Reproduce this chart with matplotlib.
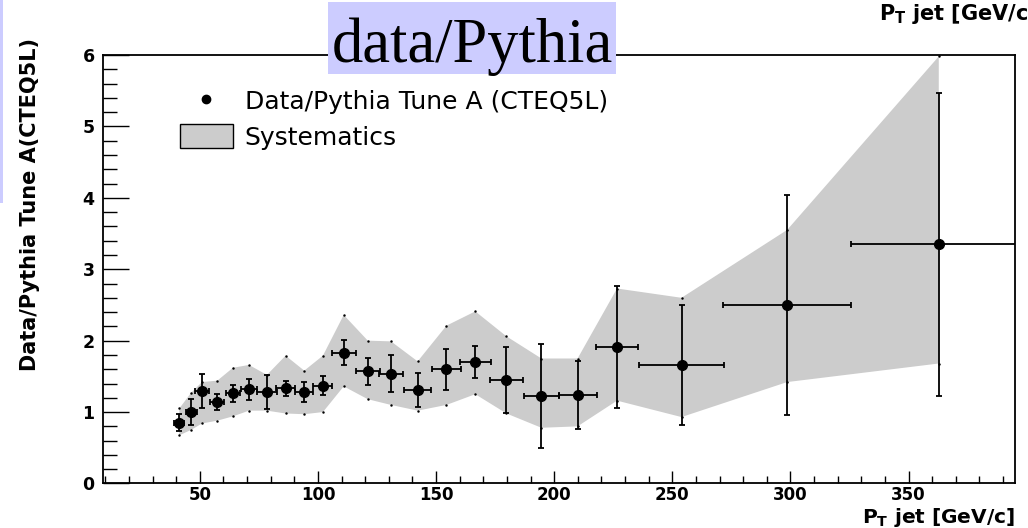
import matplotlib.pyplot as plt
from matplotlib.lines import Line2D
from matplotlib.patches import Patch, Rectangle
from matplotlib.ticker import MultipleLocator

plt.rcParams["font.family"] = ["DejaVu Sans"]

# jet pT bin centres and half-widths [GeV/c]
pt = [41.3, 46.3, 50.9, 57.4, 64.0, 70.8, 78.4, 86.3, 94.2, 102.1, 110.9,
      121.1, 130.9, 142.2, 154.4, 166.6, 179.8, 194.6, 209.9, 226.6, 253.9,
      298.6, 362.8]
pt_err = [2.1, 2.3, 3.0, 2.9, 3.1, 3.45, 4.2, 4.0, 3.75, 4.0, 5.0,
          5.15, 5.1, 5.85, 5.95, 6.5, 7.15, 7.4, 8.05, 9.0, 17.95,
          27.0, 37.0]

# data / Pythia Tune A ratio and statistical errors
ratio = [0.85, 1.00, 1.30, 1.14, 1.26, 1.32, 1.28, 1.33, 1.28, 1.37, 1.83,
         1.57, 1.54, 1.31, 1.60, 1.70, 1.45, 1.225, 1.24, 1.91, 1.66,
         2.50, 3.35]
ratio_err = [0.12, 0.18, 0.24, 0.11, 0.125, 0.145, 0.24, 0.10, 0.14, 0.135,
             0.175, 0.19, 0.26, 0.235, 0.285, 0.225, 0.465, 0.735, 0.48,
             0.855, 0.835, 1.545, 2.12]

# systematic band edges
syst_hi = [1.05, 1.27, 1.42, 1.44, 1.62, 1.66, 1.52, 1.79, 1.58, 1.79, 2.36,
           2.00, 1.99, 1.71, 2.21, 2.41, 2.06, 1.75, 1.75, 2.73, 2.60,
           3.55, 5.98]
syst_lo = [0.675, 0.75, 0.84, 0.88, 0.94, 1.02, 1.02, 0.98, 0.97, 1.00, 1.36,
           1.18, 1.10, 1.02, 1.10, 1.25, 0.98, 0.78, 0.80, 1.16, 0.93,
           1.42, 1.68]

fig = plt.figure(figsize=(10.28, 5.28), dpi=100)
ax = fig.add_axes([0.1002, 0.0843, 0.887, 0.8116])

band_x = pt + pt[::-1]
band_y = syst_hi + syst_lo[::-1]
ax.fill(band_x, band_y, color="#cccccc", lw=0, zorder=1)
ax.plot(band_x, band_y, ls="none", marker=".", ms=1.5, color="k", zorder=2)

ax.errorbar(pt, ratio, xerr=pt_err, yerr=ratio_err, fmt="o", color="k",
            ms=7, elinewidth=1.3, capsize=2.5, capthick=1.3, zorder=3)

ax.set_xlim(9, 395)
ax.set_ylim(0, 6)
ax.xaxis.set_minor_locator(MultipleLocator(10))
ax.yaxis.set_minor_locator(MultipleLocator(0.2))
ax.set_xticks([50, 100, 150, 200, 250, 300, 350])
ax.set_xticklabels(["50", "100", "150", "200", "250", "300", "350"],
                   fontweight="bold")
ax.set_yticks([0, 1, 2, 3, 4, 5, 6])
ax.set_yticklabels(["0", "1", "2", "3", "4", "5", "6"], fontweight="bold")
ax.tick_params(axis="both", which="both", direction="in", width=1,
               labelsize=12.5)
ax.tick_params(axis="x", labelsize=12)
ax.tick_params(axis="y", which="major", length=19, pad=6)
ax.tick_params(axis="y", which="minor", length=10)
ax.tick_params(axis="x", which="major", length=8.5, pad=2)
ax.tick_params(axis="x", which="minor", length=5)
for s in ax.spines.values():
    s.set_linewidth(1.3)

ax.set_xlabel(r"P$_\mathbf{T}$ jet [GeV/c]", fontsize=14.5, fontweight="bold",
              ha="right")
ax.xaxis.set_label_coords(1.0, -0.052)
ax.set_ylabel("Data/Pythia Tune A(CTEQ5L)", fontsize=15, fontweight="bold",
              ha="right")
ax.yaxis.set_label_coords(-0.069, 1.04)

handles = [Line2D([], [], ls="none", marker="o", ms=6, color="k"),
           Patch(facecolor="#cccccc", edgecolor="k", lw=1)]
ax.legend(handles, ["Data/Pythia Tune A (CTEQ5L)", "Systematics"],
          loc="upper left", bbox_to_anchor=(0.084, 0.922), frameon=False,
          fontsize=18, handlelength=2.15, handleheight=1.1, labelspacing=0.42,
          handletextpad=0.45, borderpad=0, borderaxespad=0)

# slide decorations
fig.patches.append(Rectangle((328 / 1028, 1 - 74 / 528), 288 / 1028, 72 / 528,
                             transform=fig.transFigure, facecolor="#ccccff",
                             edgecolor="none", zorder=0))
fig.patches.append(Rectangle((0, 1 - 203 / 528), 3 / 1028, 203 / 528,
                             transform=fig.transFigure, facecolor="#ccccff",
                             edgecolor="none", zorder=0))
fig.text(472 / 1028, 1 - 62 / 528, "data/Pythia", family="Liberation Serif",
         fontsize=45, ha="center", va="baseline")
fig.text(1.0, 1 - 2 / 528, r"P$_\mathbf{T}$ jet [GeV/c", fontsize=15,
         fontweight="bold", ha="right", va="top")

fig.savefig("out.png", dpi=100)
plt.close(fig)
